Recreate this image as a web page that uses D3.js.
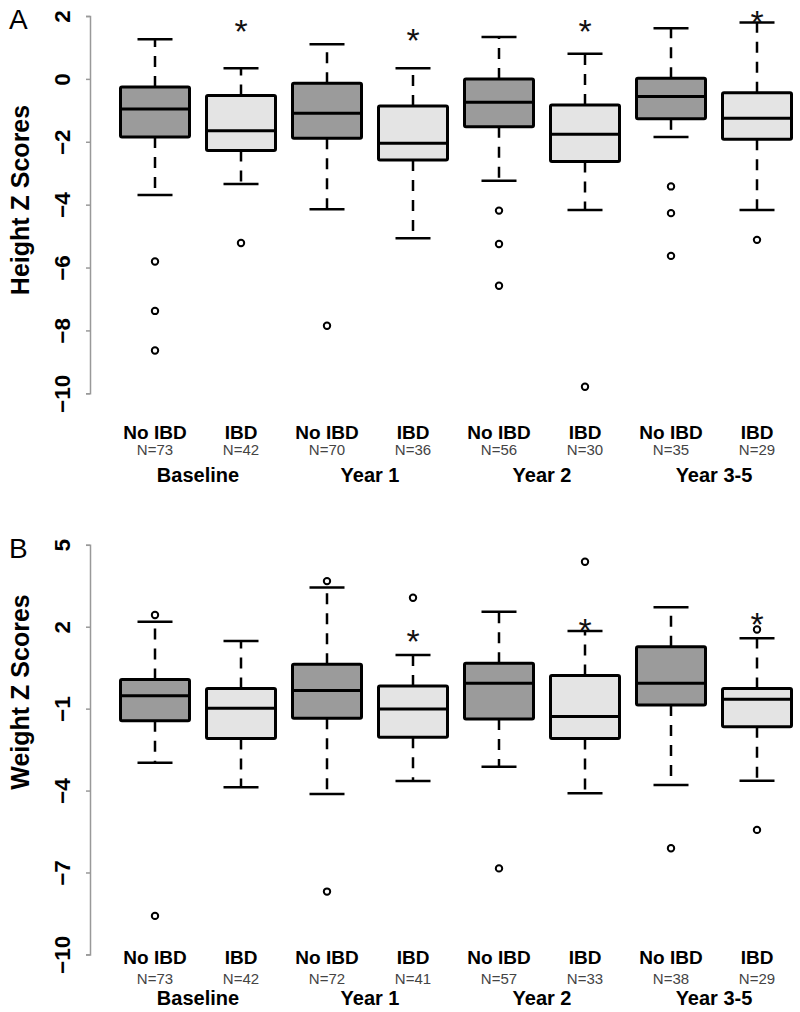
<!DOCTYPE html>
<html><head><meta charset="utf-8">
<script src="https://cdn.jsdelivr.net/npm/d3@7"></script>
<style>body{margin:0;background:#fff}svg{display:block}text{font-family:"Liberation Sans",Arial,sans-serif}</style>
</head><body>
<script>
// ---- data ----
const groups = ["Baseline", "Year 1", "Year 2", "Year 3-5"];
const categories = ["No IBD", "IBD", "No IBD", "IBD", "No IBD", "IBD", "No IBD", "IBD"];
const nHeight = [73, 42, 70, 36, 56, 30, 35, 29];
const nWeight = [73, 42, 72, 41, 57, 33, 38, 29];

// [lower whisker, Q1, median, Q3, upper whisker]
const heightStats = [
  [-3.69, -1.85, -0.96, -0.26, 1.26],
  [-3.34, -2.28, -1.65, -0.53, 0.34],
  [-4.15, -1.89, -1.09, -0.14, 1.10],
  [-5.07, -2.58, -2.05, -0.86, 0.34],
  [-3.24, -1.52, -0.74, 0.00, 1.33],
  [-4.17, -2.63, -1.76, -0.83, 0.80],
  [-1.85, -1.27, -0.56, 0.02, 1.61],
  [-4.17, -1.92, -1.25, -0.44, 1.79]
];
const heightOutliers = [
  [-5.81, -7.38, -8.64], [-5.22], [-7.85], [],
  [-4.19, -5.25, -6.58], [-9.79], [-3.42, -4.27, -5.63], [-5.12]
];
const heightStars = [null, 1.75, null, 1.46, null, 1.75, null, 2.04];
const heightTicks = [2, 0, -2, -4, -6, -8, -10];

const weightStats = [
  [-2.98, -1.44, -0.53, 0.07, 2.18],
  [-3.88, -2.09, -0.99, -0.26, 1.48],
  [-4.13, -1.35, -0.34, 0.63, 3.44],
  [-3.65, -2.05, -1.01, -0.17, 0.96],
  [-3.13, -1.38, -0.07, 0.66, 2.55],
  [-4.10, -2.09, -1.29, 0.21, 1.84],
  [-3.80, -0.87, -0.07, 1.27, 2.71],
  [-3.64, -1.66, -0.66, -0.26, 1.58]
];
const weightOutliers = [
  [2.43, -8.59], [], [3.67, -7.70], [3.06],
  [-6.85], [4.38], [-6.11], [1.90, -5.44]
];
const weightStars = [null, null, null, 1.72, null, 2.12, null, 2.34];
const weightTicks = [5, 2, -1, -4, -7, -10];

const fills = ["#9b9b9b", "#e4e4e4"];

// ---- drawing ----
const svg = d3.select("body").append("svg").attr("width", 800).attr("height", 1012);

const x = d3.scalePoint().domain(d3.range(8)).range([155, 757]);
const boxW = 69, capW = 35;

function panel(cfg) {
  const g = svg.append("g");
  const y = d3.scaleLinear().domain(cfg.domain).range(cfg.range);

  // letter
  g.append("text").attr("x", 9).attr("y", cfg.letterY).attr("font-size", 28).text(cfg.letter);

  // y axis
  const ax = g.append("g").attr("transform", "translate(90,0)")
    .call(d3.axisLeft(y).tickValues(cfg.ticks).tickSize(4).tickFormat(d3.format("d")));
  ax.select(".domain").attr("stroke", "#999").attr("stroke-width", 1.5);
  ax.selectAll(".tick line").attr("stroke", "#999").attr("stroke-width", 1.5);
  ax.selectAll(".tick text")
    .attr("transform", "rotate(-90)")
    .attr("x", 0).attr("y", -28)
    .attr("dy", "0.35em")
    .attr("text-anchor", "middle")
    .attr("font-size", 22.5).attr("font-weight", "bold")
    .attr("font-family", "'Liberation Sans', Arial, sans-serif")
    .attr("fill", "#000");

  // y title
  g.append("text")
    .attr("transform", `translate(20,${cfg.titleY}) rotate(-90)`)
    .attr("text-anchor", "middle").attr("dy", "0.35em")
    .attr("font-size", 25).attr("font-weight", "bold")
    .text(cfg.title);

  // boxes
  cfg.stats.forEach((s, i) => {
    const cx = x(i);
    const bg = g.append("g");
    // whiskers dashed
    bg.append("line").attr("x1", cx).attr("x2", cx).attr("y1", y(s[3])).attr("y2", y(s[4]))
      .attr("stroke", "#000").attr("stroke-width", 2.5).attr("stroke-dasharray", "11,9");
    bg.append("line").attr("x1", cx).attr("x2", cx).attr("y1", y(s[1])).attr("y2", y(s[0]))
      .attr("stroke", "#000").attr("stroke-width", 2.5).attr("stroke-dasharray", "11,9");
    // caps
    [s[0], s[4]].forEach(v => bg.append("line")
      .attr("x1", cx - capW / 2).attr("x2", cx + capW / 2).attr("y1", y(v)).attr("y2", y(v))
      .attr("stroke", "#000").attr("stroke-width", 2.5));
    // box
    bg.append("rect").attr("x", cx - boxW / 2).attr("width", boxW)
      .attr("y", y(s[3])).attr("height", y(s[1]) - y(s[3]))
      .attr("fill", fills[i % 2]).attr("stroke", "#000").attr("stroke-width", 3).attr("rx", 1.5);
    bg.append("line").attr("x1", cx - boxW / 2).attr("x2", cx + boxW / 2)
      .attr("y1", y(s[2])).attr("y2", y(s[2])).attr("stroke", "#000").attr("stroke-width", 3);
    // outliers
    cfg.outliers[i].forEach(v => bg.append("circle").attr("cx", cx).attr("cy", y(v)).attr("r", 3.2)
      .attr("fill", "none").attr("stroke", "#000").attr("stroke-width", 2));
    // star
    if (cfg.stars[i] !== null) {
      bg.append("text").attr("x", cx).attr("y", y(cfg.stars[i]) + 19)
        .attr("text-anchor", "middle").attr("font-size", 34).attr("fill", "#111").text("*");
    }
    // category labels
    bg.append("text").attr("x", cx).attr("y", cfg.catY).attr("text-anchor", "middle")
      .attr("font-size", 19).attr("font-weight", "bold").text(categories[i]);
    bg.append("text").attr("x", cx).attr("y", cfg.nY).attr("text-anchor", "middle")
      .attr("font-size", 15).attr("fill", "#444").text("N=" + cfg.n[i]);
  });

  groups.forEach((gname, k) => {
    g.append("text").attr("x", (x(2 * k) + x(2 * k + 1)) / 2).attr("y", cfg.groupY)
      .attr("text-anchor", "middle").attr("font-size", 20).attr("font-weight", "bold").text(gname);
  });
}

panel({
  letter: "A", letterY: 29, domain: [-10, 2], range: [393.3, 16], ticks: heightTicks,
  title: "Height Z Scores", titleY: 200,
  stats: heightStats, outliers: heightOutliers, stars: heightStars, n: nHeight,
  catY: 439, nY: 455, groupY: 482
});
panel({
  letter: "B", letterY: 558, domain: [-10, 5], range: [954.4, 544.8], ticks: weightTicks,
  title: "Weight Z Scores", titleY: 692,
  stats: weightStats, outliers: weightOutliers, stars: weightStars, n: nWeight,
  catY: 964, nY: 984, groupY: 1005
});
</script>
</body></html>
